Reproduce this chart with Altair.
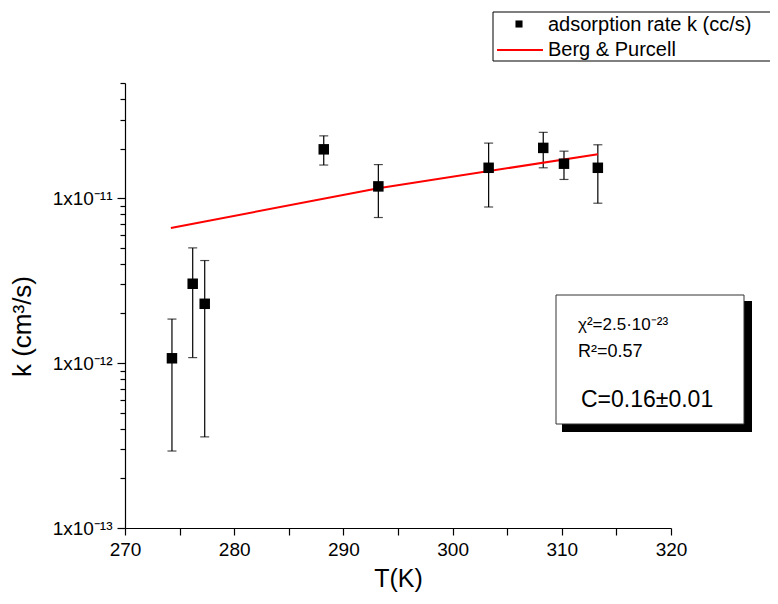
import altair as alt
import pandas as pd

# Data
T = [274.3, 276.2, 277.3, 288.2, 293.2, 303.3, 308.3, 310.2, 313.3]
k = [1.07e-12, 3.03e-12, 2.29e-12, 1.98e-11, 1.18e-11, 1.53e-11, 2.02e-11, 1.62e-11, 1.53e-11]
k_hi = [1.85e-12, 5.00e-12, 4.19e-12, 2.39e-11, 1.60e-11, 2.16e-11, 2.51e-11, 1.93e-11, 2.11e-11]
k_lo = [2.93e-13, 1.08e-12, 3.57e-13, 1.59e-11, 7.64e-12, 8.85e-12, 1.53e-11, 1.30e-11, 9.33e-12]

T_fit = [274.2, 293.2, 313.3]
k_fit = [6.6e-12, 1.15e-11, 1.85e-11]

x_ticks = [270, 275, 280, 285, 290, 295, 300, 305, 310, 315, 320]
y_ticks = [m * 10.0 ** e for e in (-13, -12) for m in range(1, 10)] + [1e-11, 2e-11, 3e-11, 4e-11, 5e-11]

FONT = "Liberation Sans"

df = pd.DataFrame({"T": T, "k": k, "lo": k_lo, "hi": k_hi})
fit = pd.DataFrame({"T": T_fit, "k": k_fit})

xs = alt.Scale(domain=[270, 320], nice=False, zero=False)
ys = alt.Scale(type="log", domain=[1e-13, 5e-11], nice=False)

major_y = "datum.value == 1e-13 || datum.value == 1e-12 || datum.value == 1e-11"

x_axis = alt.Axis(
    values=x_ticks, labelExpr="datum.value % 10 == 0 ? datum.label : ''",
    format="d", grid=False, domainColor="black", tickColor="black",
    domainWidth=1.2, tickWidth=1.2, labelFlush=False,
    labelFont=FONT, labelFontSize=19, labelColor="black", tickSize=7, labelPadding=5,
    title="T(K)", titleFont=FONT, titleFontSize=25, titleFontWeight="normal",
    titleColor="black", titleX=273, titleY=58, titleBaseline="alphabetic",
    titleAlign="center",
)
y_axis = alt.Axis(
    values=y_ticks,
    labelExpr="datum.value == 1e-13 ? '1x10⁻¹³' : datum.value == 1e-12 ? '1x10⁻¹²' : datum.value == 1e-11 ? '1x10⁻¹¹' : ''",
    grid=False, domainColor="black", tickColor="black", domainWidth=1.2, tickWidth=1.2,
    labelFlush=False,
    tickSize={"condition": {"test": major_y, "value": 8}, "value": 5},
    labelFont=FONT, labelFontSize=19, labelColor="black", labelPadding=5,
    title="k (cm³/s)", titleFont=FONT, titleFontSize=26, titleFontWeight="normal",
    titleColor="black", titleX=-103, titleY=243, titleAngle=270,
    titleAlign="center", titleBaseline="middle",
)

base = alt.Chart(df)

bars = base.mark_rule(color="black", strokeWidth=1.2).encode(
    x=alt.X("T:Q", scale=xs, axis=x_axis),
    y=alt.Y("lo:Q", scale=ys, axis=y_axis),
    y2="hi:Q",
)
cap_hi = base.mark_tick(color="black", orient="horizontal", size=9, thickness=1.2).encode(
    x=alt.X("T:Q", scale=xs), y=alt.Y("hi:Q", scale=ys)
)
cap_lo = base.mark_tick(color="black", orient="horizontal", size=9, thickness=1.2).encode(
    x=alt.X("T:Q", scale=xs), y=alt.Y("lo:Q", scale=ys)
)
pts = base.mark_square(color="black", size=110, opacity=1).encode(
    x=alt.X("T:Q", scale=xs), y=alt.Y("k:Q", scale=ys)
)
line = alt.Chart(fit).mark_line(color="#ff0000", strokeWidth=2).encode(
    x=alt.X("T:Q", scale=xs), y=alt.Y("k:Q", scale=ys)
)

one = alt.Data(values=[{"a": 1}])

# Legend box (top right, running off the page edge)
leg_box = alt.Chart(one).mark_rect(fill="white", stroke="black", strokeWidth=1).encode(
    x=alt.value(368), x2=alt.value(700), y=alt.value(-71), y2=alt.value(-22)
)
leg_sq = alt.Chart(one).mark_square(color="black", size=50, opacity=1).encode(
    x=alt.value(394), y=alt.value(-59)
)
leg_ln = alt.Chart(one).mark_rule(color="#ff0000", strokeWidth=2).encode(
    x=alt.value(372), x2=alt.value(418), y=alt.value(-33)
)
leg_t1 = alt.Chart(one).mark_text(font=FONT, fontSize=20, align="left", baseline="middle", color="black").encode(
    x=alt.value(423), y=alt.value(-58), text=alt.value("adsorption rate k (cc/s)")
)
leg_t2 = alt.Chart(one).mark_text(font=FONT, fontSize=20, align="left", baseline="middle", color="black").encode(
    x=alt.value(423), y=alt.value(-33), text=alt.value("Berg & Purcell")
)

# Annotation box with shadow
shadow = alt.Chart(one).mark_rect(fill="black").encode(
    x=alt.value(437), x2=alt.value(627), y=alt.value(218), y2=alt.value(349)
)
box = alt.Chart(one).mark_rect(fill="white", stroke="#333333", strokeWidth=1).encode(
    x=alt.value(431), x2=alt.value(619), y=alt.value(212), y2=alt.value(341)
)
t_chi = alt.Chart(one).mark_text(font=FONT, fontSize=17, align="left", baseline="middle", color="black").encode(
    x=alt.value(453), y=alt.value(242), text=alt.value("χ²=2.5·10⁻²³")
)
t_r2 = alt.Chart(one).mark_text(font=FONT, fontSize=18, align="left", baseline="middle", color="black").encode(
    x=alt.value(453), y=alt.value(269), text=alt.value("R²=0.57")
)
t_c = alt.Chart(one).mark_text(font=FONT, fontSize=23, align="left", baseline="middle", color="black").encode(
    x=alt.value(456), y=alt.value(317), text=alt.value("C=0.16±0.01")
)

chart = alt.layer(
    bars, cap_hi, cap_lo, line, pts,
    leg_box, leg_sq, leg_ln, leg_t1, leg_t2,
    shadow, box, t_chi, t_r2, t_c,
).properties(
    width=546, height=445,
    autosize=alt.AutoSizeParams(type="none"),
    padding={"left": 117, "top": 75, "right": 99, "bottom": 64},
    background="white",
).configure_view(stroke=None)

chart.save("out.html", embed_options={"renderer": "svg", "actions": False})
